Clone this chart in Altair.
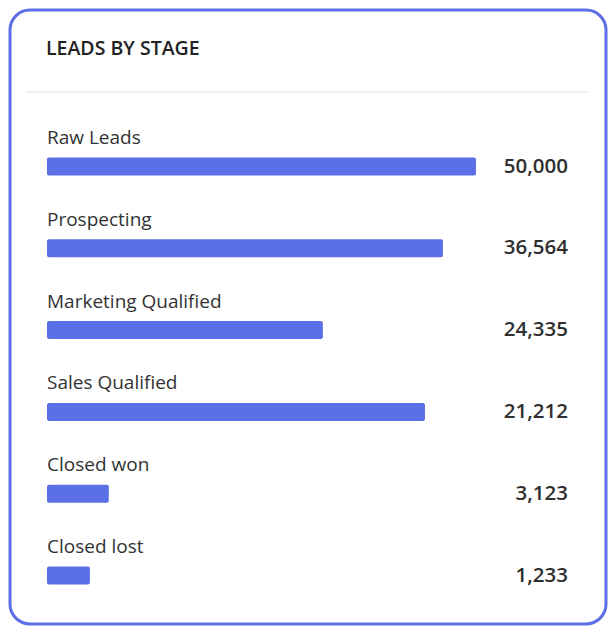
import altair as alt
import pandas as pd

stages = ["Raw Leads", "Prospecting", "Marketing Qualified", "Sales Qualified", "Closed won", "Closed lost"]
values = [50000, 36564, 24335, 21212, 3123, 1233]
bar_pct = [100, 92.3, 64.3, 88.1, 14.4, 10.0]  # bar lengths (% of longest)

df = pd.DataFrame({"stage": stages, "value": values, "pct": bar_pct})
df["label"] = df["value"].map(lambda v: f"{v:,}")

FONT = "Open Sans"
BLUE = "#5b6fe6"
TEXT = "#2f2f2f"

y_enc = alt.Y("stage:N", sort=stages, axis=None,
              scale=alt.Scale(type="point", range=[156.5, 565.5], padding=0))
x_scale = alt.Scale(domain=[0, 100], range=[37, 466])

base = alt.Chart(df)

bars = base.mark_bar(height=18, color=BLUE, cornerRadius=2).encode(
    x=alt.X("pct:Q", scale=x_scale, axis=None),
    x2=alt.datum(0),
    y=y_enc,
)

labels = base.mark_text(align="left", baseline="alphabetic", dy=-22.5,
                        font=FONT, fontSize=19, color="#333333").encode(
    x=alt.value(37),
    y=y_enc,
    text="stage:N",
)

vals = base.mark_text(align="right", baseline="middle", dy=0,
                      font=FONT, fontSize=20.5, fontWeight=600, color=TEXT).encode(
    x=alt.value(558),
    y=y_enc,
    text="label:N",
)

title = alt.Chart(pd.DataFrame({"t": ["LEADS BY STAGE"]})).mark_text(
    align="left", baseline="alphabetic", font=FONT, fontSize=19.5, fontWeight=600, color="#222222"
).encode(x=alt.value(36), y=alt.value(45), text="t:N")

sep = alt.Chart(pd.DataFrame({"a": [0]})).mark_rule(color="#e3e3e3", strokeWidth=1).encode(
    x=alt.value(16), x2=alt.value(579), y=alt.value(82)
)

chart = alt.layer(title, sep, bars, labels, vals).properties(
    width=596, height=614, padding=2
).configure(
    background="white",
    view=alt.ViewConfig(stroke=BLUE, strokeWidth=3, cornerRadius=20, fill="white"),
)

chart.save("out.html", embed_options={"renderer": "svg", "actions": False})
